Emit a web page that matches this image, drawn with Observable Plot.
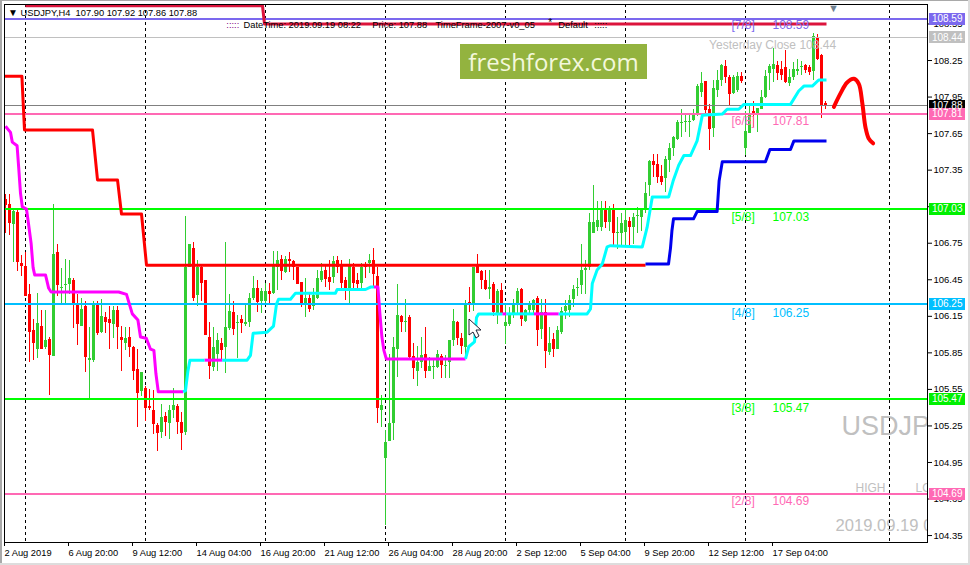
<!DOCTYPE html>
<html>
<head>
<meta charset="utf-8">
<script src="https://cdn.jsdelivr.net/npm/d3@7"></script>
<script src="https://cdn.jsdelivr.net/npm/@observablehq/plot@0.6"></script>
<style>
html,body{margin:0;padding:0;background:#fff;overflow:hidden}
#wrap{position:relative;width:970px;height:565px;background:#fff;overflow:hidden}
#wrap svg.plot{display:block;position:absolute;left:0;top:0}
.edge{position:absolute;background:#a9a9a9}
#logo{position:absolute;left:460px;top:44px;width:187px;height:35px;background:#93b33f;color:#f3f8dc;font:24px "Open Sans",sans-serif;line-height:35px;text-align:center}
#cursor{position:absolute;left:465px;top:316px}
</style>
</head>
<body>
<div id="wrap"></div>
<script>
const highs = [
107.15,107.15,107.03,107.03,106.65,106.67,106.41,106.12,106.34,106.20,
106.20,105.98,107.07,106.74,106.54,106.62,106.61,106.46,106.33,106.30,
106.27,106.06,106.27,106.27,106.29,106.18,106.23,106.23,106.23,106.07,
106.06,106.06,105.90,105.88,105.69,105.57,105.55,105.54,105.27,105.43,
105.36,105.42,105.56,105.43,105.36,106.97,106.74,106.76,106.61,106.56,
106.44,106.10,106.06,106.01,105.97,106.76,106.33,106.27,106.16,106.16,
106.25,106.34,106.48,106.44,106.38,106.42,106.42,106.68,106.68,106.65,
106.64,106.67,106.61,106.55,106.43,106.46,106.33,106.38,106.53,
106.58,106.56,106.61,106.64,106.64,106.61,106.47,106.62,106.58,106.50,106.58,
106.59,106.66,106.71,106.55,105.50,105.21,105.84,105.98,106.41,106.16,
106.29,106.16,105.93,105.90,105.98,106.06,105.81,105.80,105.87,105.84,
105.83,105.95,106.21,106.11,106.01,106.28,106.39,106.55,106.66,106.53,
106.53,106.53,106.43,106.37,106.42,106.25,106.22,106.29,106.38,106.38,
106.21,106.27,106.29,106.31,106.29,106.29,106.06,106.01,106.07,106.22,
106.28,106.32,106.40,106.46,106.74,106.61,
106.99,107.22,107.09,107.09,107.09,107.05,107.07,106.96,106.99,107.03,
106.96,106.99,107.04,107.02,107.25,107.43,107.48,107.48,107.39,107.46,
107.57,107.63,107.76,107.85,107.80,107.80,107.85,108.05,108.15,108.08,
107.89,108.09,108.17,108.22,108.25,108.13,108.13,108.15,108.15,107.83,
107.87,107.91,107.86,108.00,108.17,108.22,108.35,108.24,108.24,108.33,
108.18,108.23,108.26,108.24,108.22,108.21,108.47,108.46,108.30,107.91];

const lows = [
106.83,106.81,106.59,106.52,106.48,106.31,105.77,105.79,105.80,105.88,
105.88,105.50,105.82,106.31,106.24,106.24,106.33,106.05,105.91,106.07,
105.69,105.47,105.77,105.99,106.01,106.01,105.88,105.97,105.88,105.70,
105.87,105.81,105.62,105.24,105.49,105.29,105.38,105.18,105.04,105.15,
105.16,105.14,105.31,105.18,105.05,105.17,106.55,106.27,106.23,106.27,
105.99,105.63,105.70,105.70,105.79,105.68,106.03,105.99,105.80,106.01,
106.07,106.06,106.28,106.18,106.17,106.25,106.25,106.33,106.36,106.44,
106.50,106.51,106.44,106.41,106.22,106.14,106.18,106.20,106.29,
106.43,106.39,106.36,106.42,106.50,106.38,106.28,106.24,106.38,106.37,106.37,
106.46,106.50,106.38,105.27,105.24,104.43,105.13,105.13,105.65,106.02,
106.02,105.80,105.63,105.57,105.72,105.64,105.70,105.63,105.72,105.64,
105.64,105.64,105.90,105.91,105.84,105.80,106.18,106.19,106.50,106.37,
106.36,106.29,106.15,106.08,106.17,105.92,106.07,106.13,106.17,106.07,
106.10,106.16,106.16,105.90,105.96,105.72,105.83,105.81,105.88,106.00,
106.12,106.14,106.22,106.31,106.33,106.33,
106.53,106.83,106.85,106.85,106.87,106.85,106.73,106.70,106.73,106.73,
106.73,106.74,106.83,106.85,106.99,107.13,107.29,107.24,107.22,107.17,
107.33,107.46,107.59,107.62,107.66,107.62,107.75,107.79,107.95,107.81,
107.51,107.62,107.95,108.04,108.06,107.88,107.97,107.99,108.06,107.47,
107.65,107.70,107.66,107.85,107.94,108.00,108.07,108.09,108.09,108.06,
108.04,108.09,108.13,108.13,108.14,108.13,108.09,108.25,107.77,107.85];

const opens = [
107.11,107.07,106.90,107.00,106.58,106.56,106.33,106.03,105.88,106.07,
105.89,105.96,105.82,106.67,106.38,106.40,106.41,106.44,106.24,106.07,
106.23,105.79,105.79,106.25,106.02,106.14,106.12,106.08,106.20,105.98,
105.93,105.98,105.89,105.71,105.53,105.56,105.41,105.38,105.25,105.20,
105.33,105.27,105.38,105.41,105.28,105.20,106.55,106.71,106.32,106.55,
106.44,105.98,105.73,105.84,105.93,105.89,106.05,106.18,106.09,106.12,
106.08,106.10,106.30,106.38,106.27,106.27,106.35,106.34,106.55,106.62,
106.51,106.62,106.60,106.55,106.43,106.25,106.30,106.23,106.30,106.44,
106.53,106.47,106.47,106.61,106.56,106.44,106.38,106.55,106.44,106.42,
106.57,106.58,106.61,106.48,105.38,104.98,105.12,105.27,105.88,106.15,
106.10,106.14,105.82,105.70,105.77,105.84,105.70,105.73,105.73,105.82,
105.74,105.77,105.95,106.10,105.97,105.89,106.26,106.25,106.56,106.52,
106.44,106.37,106.41,106.17,106.36,106.07,106.08,106.16,106.25,106.37,
106.11,106.20,106.20,106.30,106.04,106.18,105.85,105.96,105.88,106.02,
106.19,106.20,106.29,106.38,106.40,106.53,106.55,106.83,106.88,106.88,
107.02,106.92,107.02,106.83,106.83,106.84,106.93,106.88,106.97,106.96,
107.02,107.22,107.42,107.40,107.30,107.28,107.43,107.53,107.60,107.73,
107.74,107.74,107.76,107.80,107.99,108.08,107.85,107.69,108.00,108.09,
108.20,108.11,107.98,108.00,108.12,107.53,107.65,107.83,107.80,107.85,
107.95,108.14,108.18,108.21,108.18,108.19,108.06,108.11,108.16,108.19,
108.21,108.19,108.16,108.44,108.29,107.90];

const closes = [
107.06,106.91,107.01,106.59,106.56,106.31,106.02,105.93,106.09,105.88,
105.95,105.83,106.66,106.40,106.39,106.41,106.46,106.25,106.08,106.21,
105.81,105.80,106.25,106.01,106.15,106.10,106.09,106.20,106.06,105.95,
105.97,105.89,105.70,105.52,105.69,105.39,105.39,105.26,105.19,105.32,
105.28,105.38,105.42,105.28,105.19,106.55,106.74,106.30,106.55,106.42,
105.99,105.74,105.89,105.95,105.87,106.06,106.19,106.04,106.10,106.09,
106.10,106.30,106.38,106.26,106.35,106.35,106.33,106.56,106.61,106.52,
106.62,106.60,106.55,106.41,106.25,106.30,106.21,106.32,106.46,106.52,
106.45,106.43,106.60,106.55,106.42,106.36,106.56,106.42,106.41,106.55,
106.55,106.61,106.49,105.39,105.42,105.11,105.27,105.89,106.16,106.10,
106.11,105.81,105.72,105.77,105.83,105.70,105.74,105.74,105.84,105.75,
105.75,105.95,106.11,105.97,105.90,106.25,106.25,106.55,106.50,106.44,
106.37,106.39,106.18,106.35,106.17,106.10,106.16,106.24,106.35,106.12,
106.20,106.25,106.28,106.03,106.18,105.86,105.93,105.88,106.03,106.19,
106.23,106.28,106.37,106.39,106.53,106.54,106.92,106.92,106.94,107.02,
106.92,107.02,106.83,106.84,106.91,106.94,106.88,106.96,106.98,107.02,
107.16,107.42,107.39,107.29,107.25,107.44,107.53,107.62,107.74,107.74,
107.75,107.75,107.80,108.04,108.06,107.84,107.68,108.02,108.09,108.21,
108.11,107.97,108.11,108.12,108.08,107.67,107.81,107.80,107.86,107.95,
108.12,108.20,108.22,108.14,108.13,108.07,108.11,108.18,108.18,108.20,
108.17,108.15,108.45,108.26,107.88,107.88];

// [bar, price] series of the stepped indicators
const redLine = [[-0.2,108.12],[4.1,108.12],[4.75,107.68],[21.75,107.68],[23,107.27],[28,107.27],[29,106.99],[34,106.99],[35.25,106.57],[160,106.57]];
const crimsonLine = [[5,108.70],[64.25,108.70],[64.75,108.55],[205.25,108.55]];
const blueLine = [[160,106.58],[165.75,106.58],[166.25,106.71],[166.6,106.85],[167,106.95],[172,106.95],[172.9,107.01],[177.9,107.01],[178.4,107.26],[179.2,107.42],[190,107.42],[191.1,107.52],[196.25,107.52],[197.1,107.59],[205.25,107.59]];
const magentaA = [[0,107.71],[1.25,107.66],[1.7,107.58],[2.9,107.55],[3.3,107.37],[3.75,107.16],[4.2,107.05],[5.25,107.03],[5.75,106.91],[6.4,106.75],[6.9,106.55],[7.3,106.49],[10,106.49],[10.8,106.38],[11.4,106.35],[28.3,106.35],[30.25,106.33],[31.7,106.17],[33.1,106.12],[33.75,105.98],[35.2,105.97],[36.25,105.88],[37.1,105.87],[37.6,105.68],[38.2,105.53],[44.4,105.53]];
const magentaB = [[49.75,105.79],[54.2,105.79]];
const magentaC = [[92.1,106.39],[93.1,106.39],[93.6,106.17],[94.1,105.98],[94.6,105.87],[95.2,105.80],[115,105.80]];
const magentaD = [[124.2,106.17],[125.2,106.17]];
const magentaE = [[132.1,106.17],[138.3,106.17]];
const cyanA = [[44.4,105.53],[45,105.54],[45.6,105.70],[46.1,105.79],[49.75,105.79]];
const cyanB = [[54.2,105.79],[60.4,105.79],[61.25,105.83],[61.9,106.01],[65.4,106.02],[67,106.07],[67.75,106.25],[68.25,106.29],[71.25,106.29],[72.5,106.34],[82.5,106.34],[82.9,106.37],[90,106.37],[91.25,106.39],[92.1,106.39]];
const cyanC = [[115,105.80],[115.8,105.90],[117.25,105.94],[117.75,106.14],[118.3,106.17],[124.2,106.17]];
const cyanD = [[125.2,106.17],[132.1,106.17]];
const cyanE = [[138.3,106.17],[145.4,106.17],[146.25,106.21],[146.7,106.42],[147.9,106.53],[149.2,106.58],[150.4,106.72],[151.25,106.73],[159.2,106.72],[160.4,106.88],[161.7,107.13],[165.8,107.13],[166.9,107.26],[168.3,107.39],[169.6,107.47],[171.25,107.47],[172.9,107.59],[174.2,107.80],[179.2,107.81],[180.4,107.85],[183.3,107.85],[184.6,107.89],[196.25,107.89],[198.3,108.00],[199.6,108.04],[201.7,108.04],[203.3,108.09],[205.25,108.09]];
const forecastArrow = [[207.1,107.87],[208.75,107.98],[210.4,108.07],[212.1,108.10],[213.3,108.06],[214.2,107.90],[215,107.70],[215.8,107.61],[216.9,107.57]];

const levelPrices = [108.59,107.81,107.03,106.25,105.47,104.69];
const levelColors = ["#7b68ee","#ff69b4","#00ff00","#00bfff","#00ff00","#ff69b4"];
const levelNames = ["[7/8]","[6/8]","[5/8]","[4/8]","[3/8]","[2/8]"];
const levelLabelPrices = [108.54,107.75,106.96,106.18,105.40,104.63];

const grayPrices = [108.44,107.88];
const grayColors = ["#c0c0c0","#808080"];
const tagPrices = [108.59,108.44,107.88,107.81,107.03,106.25,105.47,104.69];
const tagColors = ["#7b68ee","#c0c0c0","#000000","#ff69b4","#00f000","#00bfff","#00f000","#ff69b4"];

const separators = [5,35,65,95,125,155,185,221];
const yTicks = [108.55,108.25,107.95,107.65,107.35,107.05,106.75,106.45,106.15,105.85,105.55,105.25,104.95,104.65,104.35];
const xTicks = [0,16,32,48,64,80,96,112,128,144,160,176,192];
const xTickLabels = ["2 Aug 2019","6 Aug 20:00","9 Aug 12:00","14 Aug 04:00","16 Aug 20:00","21 Aug 12:00","26 Aug 04:00","28 Aug 20:00","2 Sep 12:00","5 Sep 04:00","9 Sep 20:00","12 Sep 12:00","17 Sep 04:00"];

const notes = [
  {t:":::::", x:55.2, y:108.54, c:"#800080", s:9.3},
  {t:"DateTime: 2019.09.19 08:22", x:59.5, y:108.54, c:"#000", s:9.3},
  {t:"Price: 107.88", x:91.7, y:108.54, c:"#000", s:9.3},
  {t:"TimeFrame-2007-v0_05", x:107.5, y:108.54, c:"#000", s:9.3},
  {t:"*", x:135.7, y:108.56, c:"#000", s:10},
  {t:"Default", x:138.2, y:108.54, c:"#000", s:9.3},
  {t:":::::", x:147.2, y:108.54, c:"#000", s:9.3},
  {t:"▼", x:0.6, y:108.64, c:"#000", s:10},
  {t:"USDJPY,H4  107.90 107.92 107.86 107.88", x:3.75, y:108.64, c:"#000", s:9.3},
  {t:"Yesterday Close 108.44", x:175.9, y:108.38, c:"#c0c0c0", s:12}
];
const watermarks = [
  {t:"USDJPY", x:209, y:105.245, s:27},
  {t:"HIGH", x:212.5, y:104.74, s:12},
  {t:"LOW", x:227.5, y:104.74, s:12},
  {t:"2019.09.19 08:22", x:207.5, y:104.43, s:16.6}
];

if (new Set([highs.length,lows.length,opens.length,closes.length]).size !== 1 || highs.length !== 206)
  throw new Error("lengths " + [highs.length,lows.length,opens.length,closes.length]);

const GREEN = "#32cd32", RED = "#ff0000";
const bars = highs.map((h,i)=>({i,high:h,low:lows[i],open:opens[i],close:closes[i],color:closes[i]>=opens[i]?GREEN:RED}));
const pairs = a => a.map(([i,p])=>({i,p}));
const levels = levelPrices.map((p,k)=>({p,c:levelColors[k],n:levelNames[k],lp:levelLabelPrices[k]}));
const tags = tagPrices.map((p,k)=>({p,c:tagColors[k]}));
const lineMark = (a,stroke,w=3) => Plot.line(pairs(a),{x:"i",y:"p",stroke,strokeWidth:w,strokeLinejoin:"round",strokeLinecap:"butt"});

const chart = Plot.plot({
  width:970, height:565,
  marginLeft:4, marginRight:43, marginTop:4, marginBottom:23,
  x:{domain:[-0.25,230.5]},
  y:{domain:[104.293,108.71]},
  style:{fontFamily:"'Liberation Sans',Arial,sans-serif",fontSize:"10px",background:"transparent",overflow:"visible"},
  marks:[
    Plot.text(watermarks,{x:"x",y:"y",text:"t",fontSize:"s",fill:"#c0c0c0",textAnchor:"start",lineAnchor:"middle",clip:true}),
    Plot.ruleX(separators,{x:d=>d,stroke:"#000",strokeDasharray:"3,3",strokeWidth:1,shapeRendering:"crispEdges"}),
    Plot.ruleX(bars,{x:"i",y1:"low",y2:"high",stroke:"color",strokeWidth:1,shapeRendering:"crispEdges"}),
    Plot.ruleX(bars,{x:"i",y1:"open",y2:"close",stroke:"color",strokeWidth:3,shapeRendering:"crispEdges"}),
    Plot.ruleY(grayPrices,{y:d=>d,stroke:(d,k)=>grayColors[k],strokeWidth:1,shapeRendering:"crispEdges"}),
    Plot.ruleY(levels,{y:"p",stroke:"c",strokeWidth:2,shapeRendering:"crispEdges"}),
    lineMark(crimsonLine,"#dc143c",3),
    lineMark(redLine,"#ff0000",3),
    lineMark(blueLine,"#0000ee",3),
    lineMark(magentaA,"#ff00ff",3),
    lineMark(magentaB,"#ff00ff",3),
    lineMark(magentaC,"#ff00ff",3),
    lineMark(magentaD,"#ff00ff",3),
    lineMark(magentaE,"#ff00ff",3),
    lineMark(cyanA,"#00ffff",3),
    lineMark(cyanB,"#00ffff",3),
    lineMark(cyanC,"#00ffff",3),
    lineMark(cyanD,"#00ffff",3),
    lineMark(cyanE,"#00ffff",3),
    Plot.line(pairs(forecastArrow),{x:"i",y:"p",stroke:"#ff0000",strokeWidth:4,curve:"catmull-rom",strokeLinecap:"round"}),
    Plot.text(levels,{x:181.5,y:"lp",text:"n",fill:"c",fontSize:12,textAnchor:"start",lineAnchor:"middle"}),
    Plot.text(levels,{x:191.75,y:"lp",text:d=>d.p.toFixed(2),fill:"c",fontSize:12,textAnchor:"start",lineAnchor:"middle"}),
    Plot.text(notes,{x:"x",y:"y",text:"t",fill:"c",fontSize:"s",textAnchor:"start",lineAnchor:"middle"}),
    Plot.text(["▼"],{x:207,y:108.68,text:d=>d,fill:"#708090",fontSize:11,lineAnchor:"middle"}),
    Plot.frame({stroke:"#000"}),
    Plot.axisY({anchor:"right",ticks:yTicks,tickSize:4,tickPadding:2,tickFormat:d3.format(".2f"),label:null,fontSize:9.5}),
    Plot.axisX({anchor:"bottom",ticks:xTicks,tickSize:4,tickPadding:3,tickFormat:d=>xTickLabels[d/16],textAnchor:"start",label:null,fontSize:9.3,dx:-1}),
    Plot.ruleY(tags,{y:"p",x1:231,x2:240,stroke:"c",strokeWidth:12,shapeRendering:"crispEdges"}),
    Plot.text(tags,{x:231.6,y:"p",text:d=>d.p.toFixed(2),fill:"#fff",fontSize:10,textAnchor:"start",lineAnchor:"middle"})
  ]
});
chart.classList.add("plot");
const wrap = document.getElementById("wrap");
wrap.appendChild(chart);
wrap.insertAdjacentHTML("beforeend",`
<div id="logo">freshforex.com</div>
<svg id="cursor" width="20" height="24" style="position:absolute"><polygon points="4,3 4,19 8,16 11,22 14,20 11,14 16,14" fill="#fff" stroke="#223" stroke-width="1"/></svg>
<div class="edge" style="left:0;top:0;width:2px;height:565px"></div>
<div class="edge" style="left:0;top:0;width:970px;height:1px"></div>
<div class="edge" style="left:0;top:563px;width:970px;height:2px;background:#ddd"></div>
<div class="edge" style="left:968px;top:0;width:2px;height:565px;background:#ddd"></div>`);
</script>
</body>
</html>
